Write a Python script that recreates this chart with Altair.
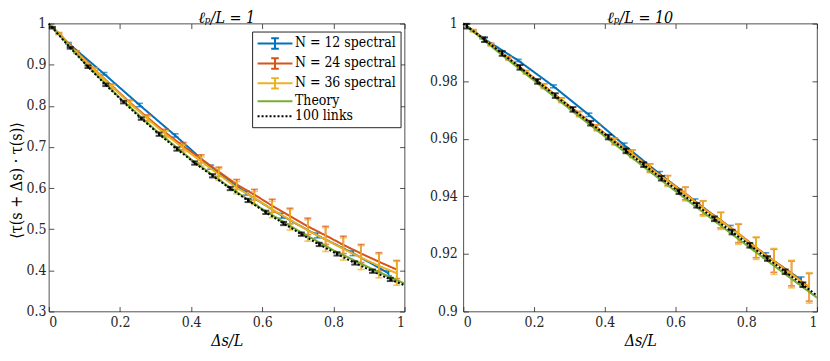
import altair as alt
import pandas as pd

SERIES = ["N = 12 spectral", "N = 24 spectral", "N = 36 spectral", "Theory", "100 links"]
COLORS = ["#0072BD", "#D95319", "#EDB120", "#77AC30", "#000000"]
DASHES = [[1, 0], [1, 0], [1, 0], [1, 0], [2, 2]]
BAR_PATH = "M-2.5,0H2.5M0,-0.75V0.75M-0.55,-0.75H0.55M-0.55,0.75H0.55"
LINE_PATH = "M-2.5,0H2.5"
SHAPES = [BAR_PATH, BAR_PATH, BAR_PATH, LINE_PATH, LINE_PATH]

# ---- x positions ----
X_N12 = [0, 0.055, 0.155, 0.255, 0.355, 0.455, 0.555, 0.655, 0.755, 0.855, 0.955]
X_N24 = [0, 0.028, 0.078, 0.128, 0.178, 0.228, 0.278, 0.328, 0.378, 0.428, 0.478,
         0.528, 0.578, 0.628, 0.678, 0.728, 0.778, 0.828, 0.878, 0.928, 0.978]
X_N36 = [0, 0.028, 0.078, 0.128, 0.178, 0.228, 0.278, 0.328, 0.378, 0.428, 0.478,
         0.528, 0.578, 0.628, 0.678, 0.728, 0.778, 0.828, 0.878, 0.928, 0.978]
X_THEORY = [0, 0.1, 0.2, 0.3, 0.4, 0.5, 0.6, 0.7, 0.8, 0.9, 1.0]
X_LINKS = [0, 0.01, 0.06, 0.11, 0.16, 0.21, 0.26, 0.31, 0.36, 0.41, 0.46,
           0.51, 0.56, 0.61, 0.66, 0.71, 0.76, 0.81, 0.86, 0.91, 0.96, 1.0]

# ---- left panel: lp/L = 1 ----
L_N12_Y = [1.0, 0.952, 0.878, 0.802, 0.728, 0.651, 0.588, 0.533, 0.485, 0.442, 0.393]
L_N12_E = [0, 0.002, 0.003, 0.004, 0.004, 0.005, 0.005, 0.006, 0.006, 0.006, 0.006]
L_N24_Y = [1.0, 0.976, 0.931, 0.889, 0.848, 0.808, 0.771, 0.735, 0.702, 0.671, 0.640,
           0.609, 0.584, 0.557, 0.532, 0.507, 0.485, 0.462, 0.441, 0.421, 0.402]
L_N24_E = [0, 0.002, 0.003, 0.004, 0.005, 0.006, 0.007, 0.008, 0.009, 0.010, 0.011,
           0.012, 0.013, 0.016, 0.019, 0.020, 0.022, 0.021, 0.022, 0.022, 0.022]
L_N36_Y = [1.0, 0.975, 0.930, 0.888, 0.846, 0.806, 0.768, 0.731, 0.697, 0.665, 0.633,
           0.601, 0.576, 0.548, 0.523, 0.497, 0.475, 0.452, 0.431, 0.411, 0.393]
L_N36_E = [0, 0.002, 0.003, 0.004, 0.005, 0.006, 0.007, 0.008, 0.009, 0.011, 0.014,
           0.015, 0.016, 0.020, 0.025, 0.026, 0.029, 0.027, 0.029, 0.029, 0.029]
L_THEORY_Y = [1.0, 0.905, 0.819, 0.741, 0.670, 0.607, 0.549, 0.497, 0.449, 0.407, 0.368]
L_LINKS_Y = [1.0, 0.990, 0.941, 0.895, 0.851, 0.809, 0.769, 0.731, 0.695, 0.661, 0.630,
             0.599, 0.570, 0.541, 0.514, 0.488, 0.463, 0.440, 0.418, 0.398, 0.378, 0.364]
L_LINKS_E = [0, 0.002, 0.002, 0.003, 0.003, 0.003, 0.003, 0.004, 0.004, 0.004, 0.004,
             0.004, 0.004, 0.004, 0.004, 0.004, 0.004, 0.004, 0.004, 0.004, 0.004, 0]

# ---- right panel: lp/L = 10 ----
R_N12_Y = [1.0, 0.9950, 0.9872, 0.9782, 0.9683, 0.9578, 0.9478, 0.9383, 0.9290, 0.9195, 0.9110]
R_N12_E = [0, 0.0003, 0.0004, 0.0005, 0.0006, 0.0007, 0.0008, 0.0008, 0.0009, 0.0009, 0.0010]
R_N24_Y = [1.0, 0.9976, 0.9928, 0.9880, 0.9832, 0.9784, 0.9735, 0.9687, 0.9639, 0.9592, 0.9549,
           0.9499, 0.9455, 0.9410, 0.9360, 0.9317, 0.9271, 0.9222, 0.9176, 0.9132, 0.9084]
R_N24_E = [0, 0.0003, 0.0004, 0.0005, 0.0005, 0.0007, 0.0007, 0.0008, 0.0009, 0.0011, 0.0012,
           0.0014, 0.0017, 0.0022, 0.0024, 0.0027, 0.0032, 0.0035, 0.0040, 0.0043, 0.0048]
R_N36_Y = [1.0, 0.9974, 0.9926, 0.9878, 0.9830, 0.9782, 0.9733, 0.9685, 0.9637, 0.9590, 0.9547,
           0.9497, 0.9453, 0.9408, 0.9358, 0.9315, 0.9269, 0.9220, 0.9174, 0.9130, 0.9082]
R_N36_E = [0, 0.0003, 0.0004, 0.0005, 0.0006, 0.0008, 0.0008, 0.0009, 0.0010, 0.0012, 0.0013,
           0.0015, 0.0019, 0.0024, 0.0027, 0.0030, 0.0036, 0.0039, 0.0045, 0.0048, 0.0053]
R_THEORY_Y = [1.0, 0.9900, 0.9802, 0.9704, 0.9608, 0.9512, 0.9418, 0.9324, 0.9231, 0.9139, 0.9048]
R_LINKS_Y = [1.0, 0.9991, 0.9944, 0.9896, 0.9848, 0.9799, 0.9750, 0.9702, 0.9654, 0.9606, 0.9558,
             0.9510, 0.9463, 0.9416, 0.9369, 0.9322, 0.9276, 0.9230, 0.9184, 0.9138, 0.9093, 0.9055]
R_LINKS_E = [0, 0.0008, 0.0008, 0.0008, 0.0008, 0.0008, 0.0008, 0.0008, 0.0008, 0.0008, 0.0008,
             0.0008, 0.0008, 0.0008, 0.0008, 0.0008, 0.0008, 0.0008, 0.0008, 0.0008, 0.0008, 0]

X_TICKS = [0, 0.2, 0.4, 0.6, 0.8, 1.0]
L_YTICKS = [0.3, 0.4, 0.5, 0.6, 0.7, 0.8, 0.9, 1.0]
R_YTICKS = [0.9, 0.92, 0.94, 0.96, 0.98, 1.0]

FONT = "DejaVu Serif Condensed"
AXC = "#262626"
H = 289


def frame(xs, ys, es, name):
    return pd.DataFrame({"x": xs, "y": ys, "err": es, "series": name})


def panel(groups, W, ydom, yticks, yfmt, title, ytitle, legend):
    xs = alt.Scale(domain=[0, 1], nice=False, zero=False)
    ysc = alt.Scale(domain=ydom, nice=False, zero=False)
    xaxis = alt.Axis(values=X_TICKS, format=".1~f", title="Δs/L", titleFontStyle="italic",
                     grid=True, gridDash=[5, H - 10], ticks=False, domain=False,
                     labelPadding=4, titlePadding=3)
    if ytitle:
        yaxis = alt.Axis(values=yticks, format=yfmt, title=ytitle, grid=True,
                         gridDash=[5, W - 10], ticks=False, domain=False,
                         labelPadding=3, titlePadding=1, titleY=157)
    else:
        yaxis = alt.Axis(values=yticks, format=yfmt, title=None, grid=True,
                         gridDash=[5, W - 10], ticks=False, domain=False,
                         labelPadding=6)
    X = alt.X("x:Q", scale=xs, axis=xaxis)
    layers = []
    for i, d in enumerate(groups):
        c = COLORS[i]
        line = alt.Chart(d).mark_line(color=c, strokeWidth=2, strokeDash=DASHES[i]).encode(
            x=X, y=alt.Y("y:Q", scale=ysc, axis=yaxis))
        layers.append(line)
        eb = d[d["err"] > 0]
        if len(eb):
            base = alt.Chart(eb).transform_calculate(lo="datum.y - datum.err", hi="datum.y + datum.err")
            th = 2 if i == 4 else 1.6
            rule = base.mark_rule(color=c, strokeWidth=th).encode(
                x=X, y=alt.Y("lo:Q", scale=ysc, axis=yaxis), y2="hi:Q")
            caps = base.transform_fold(["lo", "hi"], as_=["k", "v"]).mark_tick(
                orient="horizontal", color=c, size=7, thickness=th).encode(
                x=X, y=alt.Y("v:Q", scale=ysc, axis=yaxis))
            layers += [rule, caps]
    if legend:
        alld = pd.concat(groups)
        leg = alt.Legend(title=None, orient="none", legendX=204, legendY=8,
                         symbolSize=196, symbolStrokeWidth=2, symbolOffset=11,
                         labelOffset=12, labelFont=FONT, labelFontSize=14, labelColor="#000",
                         rowPadding=0, padding=4, strokeColor=AXC, fillColor="white",
                         labelLimit=300)
        lg = alt.Chart(alld).transform_filter("false").mark_point(
            filled=False, strokeWidth=2, opacity=1).encode(
            x=X, y=alt.Y("y:Q", scale=ysc, axis=yaxis),
            color=alt.Color("series:N", scale=alt.Scale(domain=SERIES, range=COLORS), legend=leg),
            shape=alt.Shape("series:N", scale=alt.Scale(domain=SERIES, range=SHAPES), legend=leg),
            strokeDash=alt.StrokeDash("series:N", scale=alt.Scale(domain=SERIES, range=DASHES), legend=leg))
        layers.append(lg)
    return alt.layer(*layers).properties(width=W, height=H, title=title)


left_groups = [
    frame(X_N12, L_N12_Y, L_N12_E, SERIES[0]),
    frame(X_N24, L_N24_Y, L_N24_E, SERIES[1]),
    frame(X_N36, L_N36_Y, L_N36_E, SERIES[2]),
    frame(X_THEORY, L_THEORY_Y, [0] * len(X_THEORY), SERIES[3]),
    frame(X_LINKS, L_LINKS_Y, L_LINKS_E, SERIES[4]),
]
right_groups = [
    frame(X_N12, R_N12_Y, R_N12_E, SERIES[0]),
    frame(X_N24, R_N24_Y, R_N24_E, SERIES[1]),
    frame(X_N36, R_N36_Y, R_N36_E, SERIES[2]),
    frame(X_THEORY, R_THEORY_Y, [0] * len(X_THEORY), SERIES[3]),
    frame(X_LINKS, R_LINKS_Y, R_LINKS_E, SERIES[4]),
]

left = panel(left_groups, 357, [0.3, 1.0], L_YTICKS, ".1~f", "ℓₚ/L = 1",
             "⟨τ(s + Δs) · τ(s)⟩", True)
right = panel(right_groups, 355, [0.9, 1.0], R_YTICKS, ".2~f", "ℓₚ/L = 10", None, False)

chart = alt.hconcat(left, right, spacing=19).properties(
    padding={"left": 0, "top": 0, "right": 0, "bottom": 0}
).configure_view(stroke=AXC, strokeWidth=0.8).configure_axis(
    labelFont=FONT, labelFontSize=14, labelColor=AXC, titleFont=FONT, titleFontSize=16,
    titleColor="#000", titleFontWeight="normal", gridColor=AXC, gridOpacity=1, gridWidth=0.8
).configure_title(font=FONT, fontSize=16, fontWeight="normal", fontStyle="italic",
                  color="#000", offset=-9)

chart.save("out.html", embed_options={"renderer": "svg", "actions": False})
